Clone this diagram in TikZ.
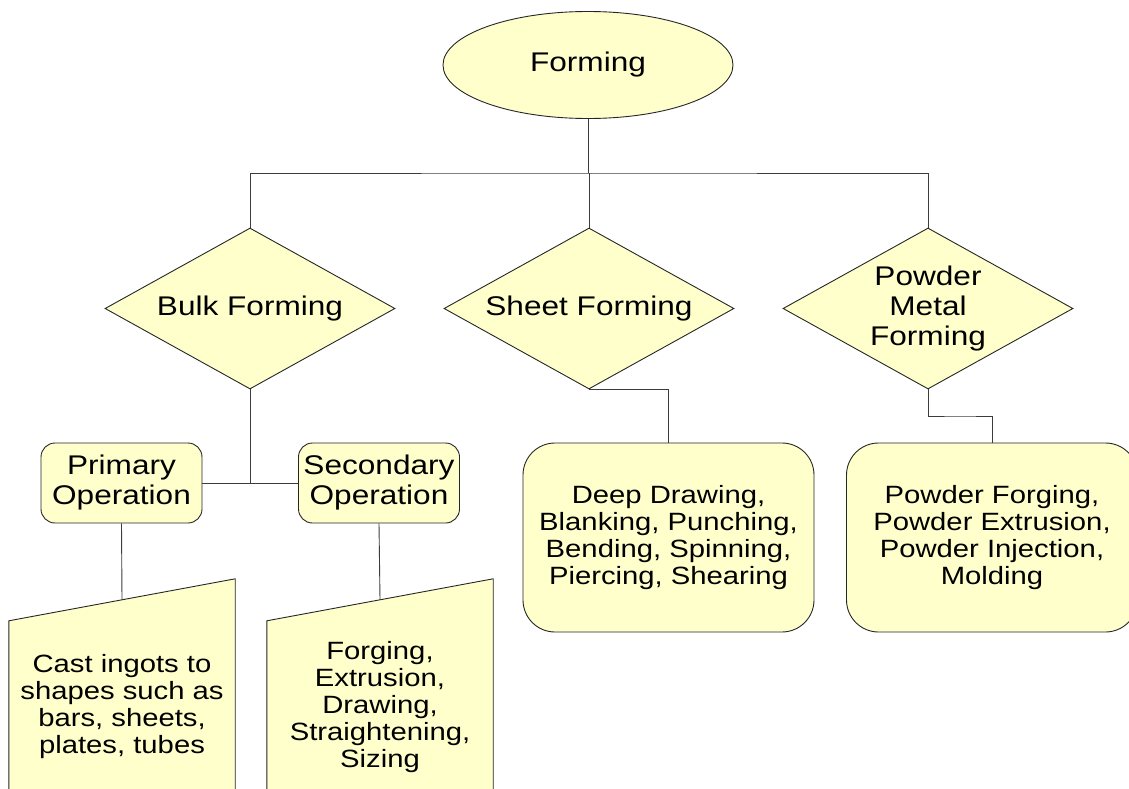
\documentclass[tikz,border=0pt]{standalone}
\usepackage{fontspec}
\setmainfont[FakeStretch=1.17]{Liberation Sans}
\usepackage{tikz}
\usetikzlibrary{calc,shapes.geometric,backgrounds}
\definecolor{paleyellow}{HTML}{FFFFCC}
\definecolor{linegray}{HTML}{3C3C3C}

\begin{document}
\begin{tikzpicture}[x=1pt,y=-1pt,
		yellowbox/.style={draw=black!85,fill=paleyellow,line width=0.9pt,inner sep=0pt,align=center},
		bigtext/.style={font=\fontsize{27}{30}\selectfont},
		smalltext/.style={font=\fontsize{25}{27}\selectfont},
		decision/.style={yellowbox,bigtext,diamond,aspect=1.8,minimum width=290pt,minimum height=161pt},
		opbox/.style={yellowbox,bigtext,rectangle,rounded corners=14pt,minimum width=161pt,minimum height=80pt},
		listbox/.style={yellowbox,smalltext,rectangle,rounded corners=32pt,minimum width=291pt,minimum height=189pt},
		inputbox/.style={smalltext,align=center,inner sep=0pt,minimum width=226pt,minimum height=256pt},
		link/.style={draw=linegray,line width=0.9pt}]
		\useasboundingbox (0,0) rectangle (1129,789);
		\clip (0,0) rectangle (1129,789);
%
		\node[yellowbox,bigtext,ellipse,minimum width=290pt,minimum height=107pt] (forming) at (588,65) {Forming};
		\node[decision] (bulk) at (250,308.5) {Bulk Forming};
		\node[decision] (sheet) at (589,308.5) {Sheet Forming};
		\node[decision] (powder) at (928,308.5) {Powder\\Metal\\Forming};
		\node[opbox] (primary) at (121.5,483) {Primary\\Operation};
		\node[opbox] (secondary) at (379,483) {Secondary\\Operation};
		\node[listbox] (sheetlist) at (668.5,537.5) {Deep Drawing,\\Blanking, Punching,\\Bending, Spinning,\\Piercing, Shearing};
		\node[listbox] (powderlist) at (992,537.5) {Powder Forging,\\Powder Extrusion,\\Powder Injection,\\Molding};
		\node[inputbox] (castlist) at (122,707) {Cast ingots to\\shapes such as\\bars, sheets,\\plates, tubes};
		\node[inputbox] (secondlist) at (380,707) {Forging,\\Extrusion,\\Drawing,\\Straightening,\\Sizing};
%
		\begin{scope}[on background layer]
			\foreach \n in {castlist,secondlist}
				\draw[yellowbox] ($(\n.north west)+(0,42)$) -- (\n.north east) -- (\n.south east) -- (\n.south west) -- cycle;
		\end{scope}
		\coordinate (casttop) at ($($(castlist.north west)+(0,42)$)!0.5!(castlist.north east)$);
		\coordinate (secondtop) at ($($(secondlist.north west)+(0,42)$)!0.5!(secondlist.north east)$);
		\coordinate (bar) at (589,173);
%
		\draw[link] (forming.south) -- (forming.south |- bar);
		\draw[link] (bulk.north) |- (bar) -| (powder.north);
		\draw[link] (bar) -- (sheet.north);
		\draw[link] (bulk.south) -- (bulk.south |- primary.east);
		\draw[link] (primary.east) -- (secondary.west);
		\path[link]
			(primary.south) edge (casttop)
			(secondary.south) edge (secondtop);
		\draw[link] (sheet.south) -| (sheetlist.north);
		\draw[link] (powder.south) |- ($(powder.south)!0.5!(powderlist.north)$) -| (powderlist.north);
	\end{tikzpicture}
\end{document}
